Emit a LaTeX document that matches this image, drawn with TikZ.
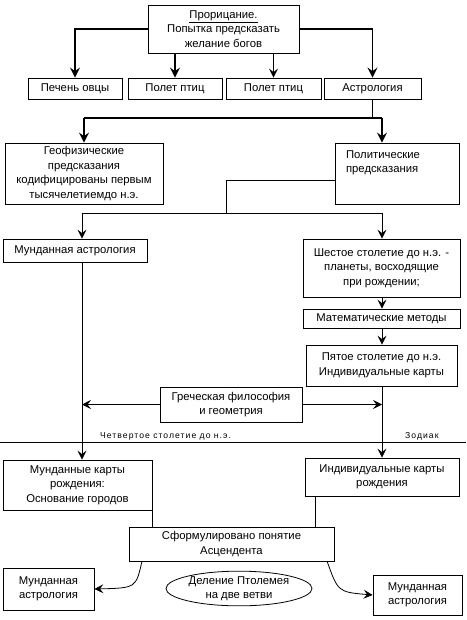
\documentclass[tikz,border=0pt]{standalone}
\usepackage{fontspec}
\setmainfont{Liberation Sans}
\newfontfamily\spaced[LetterSpace=12]{Liberation Sans}
\usetikzlibrary{arrows.meta,shapes.geometric}
\begin{document}
\begin{tikzpicture}[x=1pt,y=-1pt,
  box/.style={draw,line width=0.8pt,inner sep=1pt,align=center,font=\fontsize{11.3}{14.5}\selectfont},
  txt/.style={inner sep=0pt,font=\fontsize{11.3}{14.5}\selectfont},
  thk/.style={line width=1.8pt},
  thkarr/.style={line width=1.8pt,-{Stealth[length=10pt,width=10pt,inset=3.5pt]}},
  thn/.style={line width=0.8pt},
  thnarr/.style={line width=0.8pt,-{Stealth[length=9pt,width=9pt,inset=3.5pt]}},
  lbl/.style={inner sep=0pt,font=\spaced\fontsize{8.6}{10}\selectfont}]
\useasboundingbox (0,0) rectangle (466,620);
% top
\node[box,minimum width=151,minimum height=48] (top) at (223.5,29) {\underline{Прорицание.}\\Попытка предсказать\\желание богов};
\node[box,minimum width=94,minimum height=21] (b1) at (75,88.5) {Печень овцы};
\node[box,minimum width=94,minimum height=21] (b2) at (175,88.5) {Полет птиц};
\node[box,minimum width=95,minimum height=21] (b3) at (273.5,88.5) {Полет птиц};
\node[box,minimum width=97,minimum height=21] (b4) at (372.5,88.5) {Астрология};
\draw[thkarr] (top.west) -| (b1.north);
\draw[thkarr] (top.south -| b2.north) -- (b2.north);
\draw[thnarr,line width=1.2pt] (top.south -| b3.north) -- (b3.north);
\draw[thkarr] (top.east) -| (b4.north);
% second level
\node[box,minimum width=158,minimum height=61] (geo) at (84,173.5) {Геофизические\\предсказания\\кодифицированы первым\\тысячелетиемдо н.э.};
\node[box,minimum width=124,minimum height=61] (pol) at (397,173.5) {};
\node[txt,align=left] (polt) at (383,163) {Политические\\предсказания};
\coordinate (barL) at (84,118);
\coordinate (barR) at (382,118);
\draw[thk] (b4.south) -- (b4.south |- barR);
\draw[thk] (barL) -- (barR);
\draw[thkarr] (barL) -- (geo.north);
\draw[thkarr] (barR) -- (barR |- pol.north);
% third level
\node[box,minimum width=144,minimum height=23] (ma) at (75,250.5) {Мунданная астрология};
\node[box,minimum width=157,minimum height=58] (s6) at (381.5,268) {Шестое столетие до н.э. -\\планеты, восходящие\\при рождении;};
\node[box,minimum width=157,minimum height=19] (mm) at (381.5,318.5) {Математические методы};
\node[box,minimum width=151,minimum height=41] (p5) at (381.5,365.5) {Пятое столетие до н.э.\\Индивидуальные карты};
\coordinate (j2) at (226,180);
\coordinate (bar2L) at (82,213);
\coordinate (bar2R) at (382,213);
\draw[thn] (j2 -| pol.west) -- (j2) -- (j2 |- bar2L);
\draw[thn] (bar2L) -- (bar2R);
\draw[thnarr] (bar2L) -- (bar2L |- ma.north);
\draw[thnarr] (bar2R) -- (bar2R |- s6.north);
\draw[thnarr] (s6.south -| bar2R) -- (mm.north -| bar2R);
\draw[thnarr] (mm.south -| bar2R) -- (p5.north -| bar2R);
% Greek
\node[box,minimum width=142,minimum height=35] (gr) at (231,404.5) {Греческая философия\\и геометрия};
\coordinate (gl) at (82,404.5);
\coordinate (grr) at (382,404.5);
\draw[thnarr] (gr.west) -- (gl);
\draw[thnarr] (gr.east) -- (grr);
% divider
\coordinate (divL) at (0,442);
\coordinate (divR) at (466,442);
\draw[thn] (divL) -- (divR);
\node[lbl,anchor=base west] (t4) at (100,438.5) {Четвертое столетие до н.э.};
\node[lbl,anchor=base west] (zod) at (405,438.5) {Зодиак};
% fourth level
\node[box,minimum width=149,minimum height=50] (mc) at (77.5,485) {Мунданные карты\\рождения:\\Основание городов};
\node[box,minimum width=154,minimum height=38] (ic) at (382,477) {Индивидуальные карты\\рождения};
\draw[thnarr] (ma.south -| gl) -- (mc.north -| gl);
\draw[thnarr] (p5.south -| grr) -- (ic.north -| grr);
% bottom
\node[box,minimum width=205,minimum height=34] (sf) at (231.5,544) {Сформулировано понятие\\Асцендента};
\coordinate (xl) at (152,0);
\coordinate (xr) at (315,0);
\draw[thn] (mc.south -| xl) -- (sf.north -| xl);
\draw[thn] (ic.south -| xr) -- (sf.north -| xr);
\node[box,minimum width=91,minimum height=42] (bl) at (48.5,589) {Мунданная\\астрология};
\node[box,minimum width=89,minimum height=40] (br) at (417.5,595) {Мунданная\\астрология};
\node[box,ellipse,minimum width=146,minimum height=33,inner sep=0pt] (el) at (239,588.5) {Деление Птолемея\\на две ветви};
\coordinate (cl) at (142,561);
\coordinate (cr) at (327,561);
\draw[thnarr] (cl) .. controls (136,588) .. (bl.east);
\draw[thnarr] (cr) .. controls (338,592) .. (br.west);
\end{tikzpicture}
\end{document}
